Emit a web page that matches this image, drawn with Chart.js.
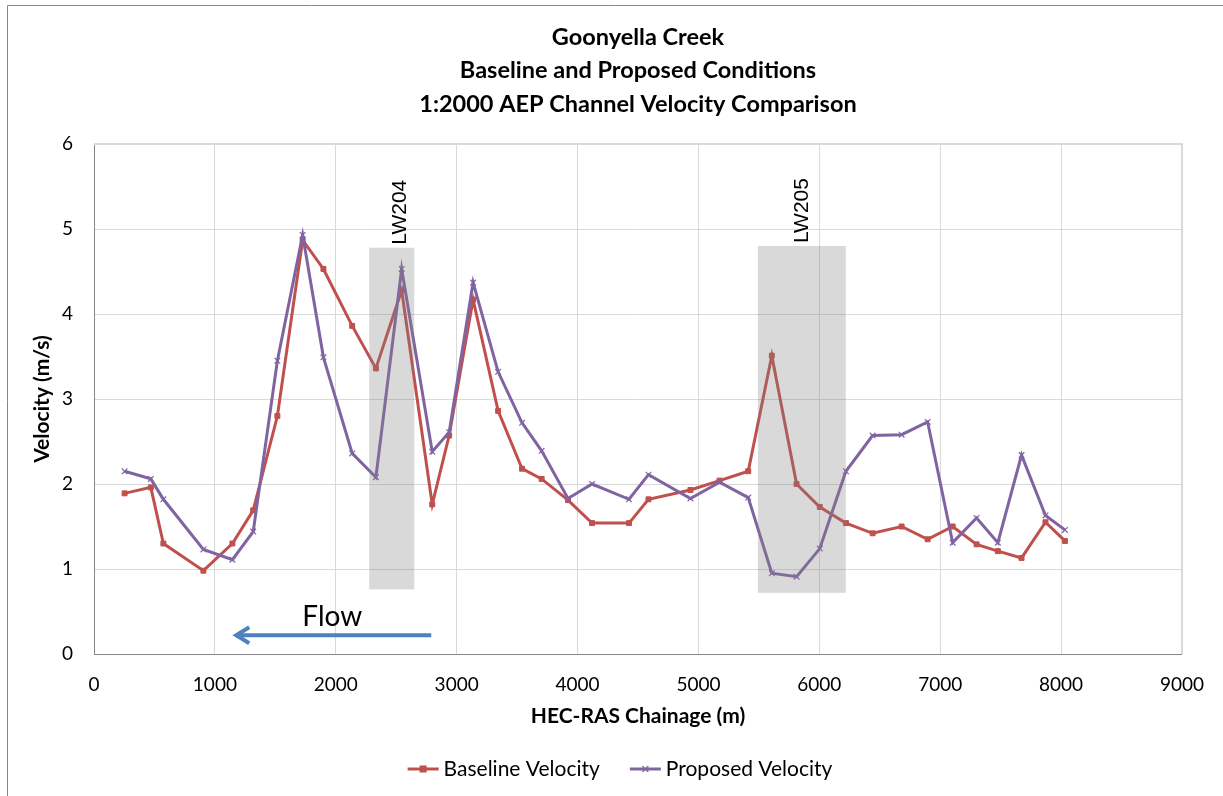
<!DOCTYPE html>
<html>
<head>
<meta charset="utf-8">
<script src="https://cdn.jsdelivr.net/npm/chart.js@4"></script>
<style>
html, body { margin: 0; padding: 0; background: #fff; }
</style>
</head>
<body>
<canvas id="velocityChart" width="1223" height="796"></canvas>
<script>
// HEC-RAS chainage (m) of each cross section
const chainage = [253, 470, 574, 905, 1145, 1317, 1517, 1726, 1898, 2136, 2332, 2545, 2798, 2938,
    3136, 3343, 3541, 3703, 3921, 4120, 4426, 4587, 4934, 5175, 5412, 5607, 5812, 6004, 6220,
    6441, 6681, 6896, 7103, 7301, 7477, 7673, 7871, 8032];

// velocities (m/s)
const baselineVelocity = [1.89, 1.96, 1.30, 0.98, 1.30, 1.69, 2.80, 4.87, 4.53, 3.86, 3.36, 4.28, 1.76, 2.57,
    4.17, 2.86, 2.18, 2.06, 1.81, 1.54, 1.54, 1.82, 1.93, 2.04, 2.15, 3.51, 2.00, 1.73, 1.54,
    1.42, 1.50, 1.35, 1.50, 1.29, 1.21, 1.13, 1.55, 1.33];
const proposedVelocity = [2.15, 2.06, 1.82, 1.23, 1.11, 1.44, 3.45, 4.93, 3.49, 2.36, 2.08, 4.53, 2.38, 2.61,
    4.37, 3.32, 2.72, 2.39, 1.83, 2.00, 1.82, 2.11, 1.83, 2.02, 1.84, 0.95, 0.91, 1.24, 2.15,
    2.57, 2.58, 2.73, 1.31, 1.60, 1.31, 2.34, 1.63, 1.46];

// longwall panels shaded on the chart
const lwNames = ["LW204", "LW205"];
const lwStart = [2277, 5492];
const lwEnd = [2649, 6219];
const lwLow = [0.76, 0.72];
const lwHigh = [4.78, 4.80];
const lwLabelAt = [2533, 5855];

// flow direction arrow
const flowFrom = 2790;
const flowTo = 1160;
const flowLevel = 0.22;
const flowLabelAt = [1971, 0.44];

const titleLines = ["Goonyella Creek", "Baseline and Proposed Conditions", "1:2000 AEP Channel Velocity Comparison"];

const FONT = "Lato, 'Open Sans', sans-serif";
const RED = "#C0504D";
const PURPLE = "#8064A2";

function toPoints(values) {
    return chainage.map((x, i) => ({ x: x, y: values[i] }));
}

const overlay = {
    id: "overlay",
    afterDatasetsDraw(chart) {
        const { ctx, chartArea, scales: { x, y } } = chart;
        ctx.save();

        // top and right edges of the plot area
        ctx.strokeStyle = "#D9D9D9";
        ctx.lineWidth = 2;
        ctx.beginPath();
        ctx.moveTo(chartArea.left, chartArea.top);
        ctx.lineTo(chartArea.right, chartArea.top);
        ctx.lineTo(chartArea.right, chartArea.bottom);
        ctx.stroke();

        lwNames.forEach((name, i) => {
            const left = x.getPixelForValue(lwStart[i]);
            const right = x.getPixelForValue(lwEnd[i]);
            const top = y.getPixelForValue(lwHigh[i]);
            const bottom = y.getPixelForValue(lwLow[i]);
            ctx.fillStyle = "rgba(128,128,128,0.3)";
            ctx.fillRect(left, top, right - left, bottom - top);

            ctx.save();
            ctx.translate(x.getPixelForValue(lwLabelAt[i]), top - 3);
            ctx.rotate(-Math.PI / 2);
            ctx.font = "21px 'Liberation Sans', Arial, sans-serif";
            ctx.fillStyle = "#000";
            ctx.textAlign = "left";
            ctx.textBaseline = "middle";
            ctx.fillText(name, 0, 0);
            ctx.restore();
        });

        // flow arrow
        const ax1 = x.getPixelForValue(flowFrom);
        const ax2 = x.getPixelForValue(flowTo);
        const ay = y.getPixelForValue(flowLevel);
        ctx.strokeStyle = "#4F81BD";
        ctx.lineWidth = 4;
        ctx.lineCap = "butt";
        ctx.beginPath();
        ctx.moveTo(ax1, ay);
        ctx.lineTo(ax2 + 2, ay);
        ctx.stroke();
        ctx.lineJoin = "miter";
        ctx.beginPath();
        ctx.moveTo(ax2 + 15, ay - 8);
        ctx.lineTo(ax2 + 2, ay);
        ctx.lineTo(ax2 + 15, ay + 8);
        ctx.stroke();

        ctx.font = "28px " + FONT;
        ctx.fillStyle = "#000";
        ctx.textAlign = "center";
        ctx.textBaseline = "middle";
        ctx.fillText("Flow", x.getPixelForValue(flowLabelAt[0]), y.getPixelForValue(flowLabelAt[1]));

        ctx.restore();
    },
    afterDraw(chart) {
        const { ctx, chartArea } = chart;
        ctx.save();

        // outer chart frame
        ctx.strokeStyle = "#868686";
        ctx.lineWidth = 1;
        ctx.beginPath();
        ctx.moveTo(7.5, 796);
        ctx.lineTo(7.5, 5.5);
        ctx.lineTo(1223, 5.5);
        ctx.stroke();

        // title
        const cx = (chartArea.left + chartArea.right) / 2;
        ctx.font = "bold 23.5px " + FONT;
        ctx.fillStyle = "#000";
        ctx.textAlign = "center";
        ctx.textBaseline = "middle";
        titleLines.forEach((line, i) => ctx.fillText(line, cx, 37 + i * 33.5));

        // legend
        const items = chart.data.datasets.slice().sort((a, b) => a.legendIndex - b.legendIndex);
        ctx.font = "21px " + FONT;
        ctx.textAlign = "left";
        const lineLen = 31, gap = 5, spacing = 30;
        const widths = items.map(d => lineLen + gap + ctx.measureText(d.label).width);
        let lx = 620 - (widths.reduce((a, b) => a + b, 0) + spacing) / 2;
        const ly = 769;
        items.forEach((d, i) => {
            ctx.strokeStyle = d.borderColor;
            ctx.lineWidth = 3;
            ctx.beginPath();
            ctx.moveTo(lx, ly);
            ctx.lineTo(lx + lineLen, ly);
            ctx.stroke();
            const mx = lx + lineLen / 2;
            if (d.pointStyle === "rect") {
                ctx.fillStyle = d.borderColor;
                ctx.fillRect(mx - 3.5, ly - 3.5, 7, 7);
            } else {
                ctx.lineWidth = 1.2;
                ctx.beginPath();
                ctx.moveTo(mx - 3, ly - 3); ctx.lineTo(mx + 3, ly + 3);
                ctx.moveTo(mx + 3, ly - 3); ctx.lineTo(mx - 3, ly + 3);
                ctx.stroke();
            }
            ctx.fillStyle = "#000";
            ctx.fillText(d.label, lx + lineLen + gap, ly);
            lx += widths[i] + spacing;
        });

        ctx.restore();
    }
};

new Chart(document.getElementById("velocityChart"), {
    type: "line",
    data: {
        datasets: [
            {
                label: "Baseline Velocity",
                legendIndex: 0,
                order: 1,
                data: toPoints(baselineVelocity),
                borderColor: RED,
                backgroundColor: RED,
                borderWidth: 3,
                pointStyle: "rect",
                pointRadius: 3.5,
                pointBorderWidth: 1,
                tension: 0
            },
            {
                label: "Proposed Velocity",
                legendIndex: 1,
                order: 0,
                data: toPoints(proposedVelocity),
                borderColor: PURPLE,
                backgroundColor: PURPLE,
                borderWidth: 3,
                pointStyle: "crossRot",
                pointRadius: 4,
                pointBorderWidth: 1.2,
                tension: 0
            }
        ]
    },
    options: {
        responsive: false,
        animation: false,
        layout: { padding: { top: 144, right: 40, bottom: 0, left: 8 } },
        plugins: {
            legend: { display: false },
            title: { display: false },
            tooltip: { enabled: false }
        },
        scales: {
            x: {
                type: "linear",
                min: 0,
                max: 9000,
                afterFit: scale => { scale.height = 142; },
                ticks: {
                    stepSize: 1000,
                    color: "#000",
                    padding: 19,
                    font: { family: FONT, size: 19 },
                    callback: value => String(value)
                },
                grid: { color: "#D9D9D9", drawTicks: false },
                border: { color: "#868686", width: 1 },
                title: {
                    display: true,
                    text: "HEC-RAS Chainage (m)",
                    color: "#000",
                    font: { family: FONT, size: 21, weight: "bold" },
                    padding: { top: 0, bottom: 67 }
                }
            },
            y: {
                min: 0,
                max: 6,
                afterFit: scale => { scale.width = 86; },
                ticks: { stepSize: 1, color: "#000", padding: 21, font: { family: FONT, size: 19 } },
                grid: { color: "#D9D9D9", drawTicks: false },
                border: { color: "#868686", width: 1 },
                title: {
                    display: true,
                    text: "Velocity (m/s)",
                    color: "#000",
                    font: { family: FONT, size: 21, weight: "bold" },
                    padding: { top: 22, bottom: 0 }
                }
            }
        }
    },
    plugins: [overlay]
});
</script>
</body>
</html>
